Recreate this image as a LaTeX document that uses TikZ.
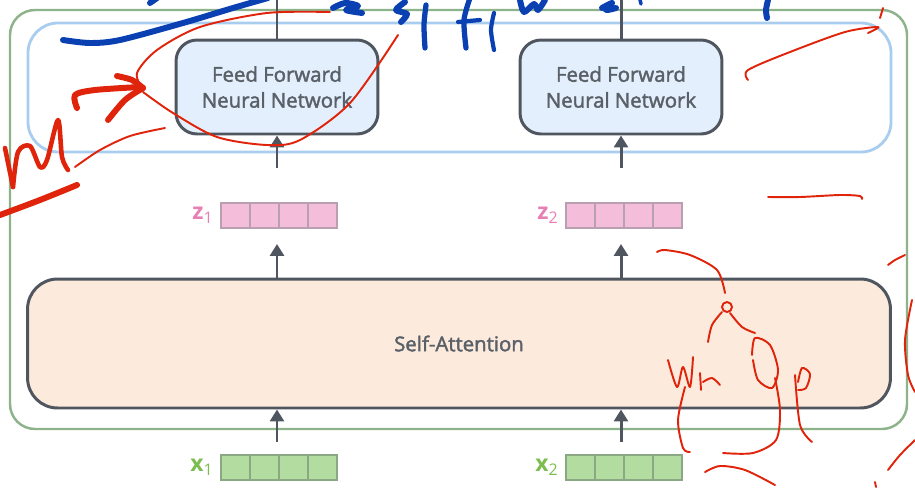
\documentclass[tikz,border=0pt]{standalone}
\usepackage{fontspec}
\setmainfont{Open Sans}
\newfontfamily\semigrasso[FakeBold=2]{Open Sans}
\usepackage{tikz}
\usetikzlibrary{arrows.meta,positioning}

\definecolor{scuro}{HTML}{50565F}
\definecolor{testo}{HTML}{5A6068}
\definecolor{bordoverde}{HTML}{8DB38A}
\definecolor{bordoblu}{HTML}{A9CDEF}
\definecolor{fondoblu}{HTML}{E3EFFC}
\definecolor{fondopesca}{HTML}{FCEBDD}
\definecolor{rosa}{HTML}{F4BDDA}
\definecolor{rosabordo}{HTML}{B8A0B0}
\definecolor{rosatesto}{HTML}{E77FB3}
\definecolor{verdino}{HTML}{B3DCA0}
\definecolor{verdebordo}{HTML}{8CA784}
\definecolor{verdetesto}{HTML}{7BBD4F}
\definecolor{inchiostro}{HTML}{E0230B}
\definecolor{pennablu}{HTML}{0B40B2}

\tikzset{
  blocco/.style = {draw=scuro, line width=1.7pt, rounded corners=0.42cm,
                   text=testo, font=\semigrasso\fontsize{11.6}{14.7}\selectfont, align=center},
  zcell/.style  = {draw=rosabordo, fill=rosa, line width=0.6pt,
                   minimum width=0.58cm, minimum height=0.5cm, inner sep=0pt, outer sep=0pt},
  xcell/.style  = {zcell, draw=verdebordo, fill=verdino},
  etichetta/.style = {inner sep=0pt, font=\bfseries\fontsize{13}{14}\selectfont},
  freccia/.style = {draw=scuro, line width=1.7pt,
                    -{Triangle[length=2.4mm,width=2.8mm]}},
  penna/.style  = {draw=inchiostro, line width=1.1pt, line cap=round, line join=round},
  pennone/.style = {penna, line width=3.4pt},
  biro/.style   = {draw=pennablu, line width=3.4pt, line cap=round, line join=round},
}

\begin{document}
\begin{tikzpicture}[x=0.02cm, y=-0.02cm]
  \useasboundingbox (0,0) rectangle (915,487);

  % cornice dell'encoder e fascia feed forward
  \draw[bordoverde, line width=1.4pt, rounded corners=0.5cm] (10,10) rectangle (907,429);
  \draw[bordoblu, line width=1.6pt, rounded corners=0.6cm] (28,23) rectangle (891,152);

  % blocchi principali
  \node[blocco, fill=fondopesca, minimum width=17.26cm, minimum height=2.58cm,
        rounded corners=0.6cm] (sa) at (459,343.5) {Self-Attention};
  \node[blocco, fill=fondoblu, minimum width=4.04cm, minimum height=1.88cm] (ffn1) at (277,87)
    {Feed Forward\\Neural Network};
  \node[blocco, fill=fondoblu, minimum width=4.04cm, minimum height=1.88cm] (ffn2) at (621,87)
    {Feed Forward\\Neural Network};
  \coordinate (cima) at (459,0); % bordo superiore

  % vettori z (uscita self-attention) e x (ingresso)
  \foreach \v/\cx in {1/221,2/566} {
    \node[zcell] (z\v-1) at (\cx+14.5,215.5) {};
    \foreach \c [count=\p] in {2,3,4}
      \node[zcell, right=0pt of z\v-\p] (z\v-\c) {};
    \node[etichetta, left=4pt of z\v-1, text=rosatesto] (zl\v) {z\textsubscript{\mdseries\v}};
    \node[xcell] (x\v-1) at (\cx+14.5,467.5) {};
    \foreach \c [count=\p] in {2,3,4}
      \node[xcell, right=0pt of x\v-\p] (x\v-\c) {};
    \node[etichetta, left=4pt of x\v-1, text=verdetesto] (xl\v) {x\textsubscript{\mdseries\v}};
  }

  % collegamenti
  \foreach \v in {1,2} {
    \draw[freccia, shorten <=0.26cm] (ffn\v.south |- x\v-2.north) -- (ffn\v.south |- sa.south);
    \draw[freccia, shorten >=0.32cm] (ffn\v.south |- sa.north) -- (ffn\v.south |- z\v-2.south);
    \draw[freccia, shorten <=0.7cm] (ffn\v.south |- z\v-2.north) -- (ffn\v.south);
    \draw[scuro, line width=1.7pt] (ffn\v.north) -- (ffn\v.north |- cima);
  }

  % appunti a mano (blu)
  \draw[biro] plot[smooth] coordinates {(63,40) (90,43) (120,40) (183,23) (233,8) (268,-2)};
  \draw[biro] plot[smooth] coordinates {(150,3) (157,-2)};
  \draw[biro] plot[smooth] coordinates {(333,8) (345,3) (358,6) (346,10) (362,13)};
  \draw[biro] plot[smooth] coordinates {(405,2) (396,10) (407,14) (401,22)};
  \draw[biro, line width=3pt] plot[smooth] coordinates {(426,5) (424,25) (425,48)};
  \draw[biro, line width=3pt] plot[smooth] coordinates {(470,-2) (464,20) (466,48)};
  \draw[biro, line width=2.4pt] plot[smooth] coordinates {(458,22) (480,20)};
  \draw[biro, line width=2.4pt] plot[smooth] coordinates {(494,13) (491,30) (494,50)};
  \draw[biro] plot[smooth] coordinates {(520,0) (524,12) (534,4) (538,10) (545,0)};
  \draw[biro] plot[smooth] coordinates {(602,8) (612,3) (606,10) (616,8)};
  \draw[biro] plot[smooth] coordinates {(768,0) (766,10) (767,18)};
  \draw[biro, line width=2pt] plot[smooth] coordinates {(640,0) (641,4)};

  % appunti a mano (rosso)
  \draw[pennone] plot[smooth] coordinates {(77,108) (75,95) (95,90) (140,87)};
  \draw[pennone] plot[smooth] coordinates {(117,76) (132,80) (143,88)};
  \draw[pennone] plot[smooth] coordinates {(108,120) (125,100) (143,88)};
  \draw[penna] plot[smooth] coordinates {(143,90) (137,73) (157,50) (200,27) (267,13) (330,12)};
  \draw[penna] plot[smooth] coordinates {(143,92) (173,113) (217,137) (267,145) (300,140) (350,103) (398,35)};
  \draw[pennone, line width=2.6pt] plot[smooth] coordinates {(5,148) (13,187)};
  \draw[pennone, line width=2.6pt] plot[smooth] coordinates {(13,187) (18,152) (30,146) (40,167) (47,160) (58,120) (62,157) (68,170)};
  \draw[pennone] plot[smooth] coordinates {(0,215) (40,200) (77,185)};
  \draw[penna] plot[smooth] coordinates {(75,167) (100,150) (130,136) (165,128)};
  \draw[penna] plot[smooth] coordinates {(748,80) (748,70) (790,52) (845,32) (878,27) (868,33)};
  \draw[penna] plot[smooth] coordinates {(880,18) (883,8)};
  \draw[penna] plot[smooth] coordinates {(768,197) (800,197) (840,195) (860,196) (862,199)};
  \draw[penna] plot[smooth] coordinates {(657,252) (665,250) (690,255) (717,270) (725,293)};
  \draw[penna] (727,307) circle[radius=5];
  \draw[penna] plot[smooth] coordinates {(708,342) (712,325) (722,312)};
  \draw[penna] plot[smooth] coordinates {(730,313) (742,327) (755,333)};
  \draw[penna] plot[smooth] coordinates {(668,360) (677,387) (683,367) (690,387) (693,357)};
  \draw[penna] plot[smooth] coordinates {(700,373) (701,390)};
  \draw[penna] plot[smooth] coordinates {(703,382) (712,378) (720,385)};
  \draw[penna] plot[smooth] coordinates {(685,387) (678,420) (683,448) (690,452)};
  \draw[penna] plot[smooth] coordinates {(752,355) (755,338) (770,345) (778,370) (772,388) (758,380) (753,360)};
  \draw[penna] plot[smooth] coordinates {(775,378) (780,410) (776,440) (753,453) (723,453)};
  \draw[penna] plot[smooth] coordinates {(795,375) (800,425) (812,442)};
  \draw[penna] plot[smooth] coordinates {(798,382) (802,368) (810,374) (806,388) (798,390)};
  \draw[penna] plot[smooth] coordinates {(705,472) (720,466) (745,470) (775,485)};
  \draw[penna] plot[smooth] coordinates {(888,265) (895,260) (905,255)};
  \draw[penna] plot[smooth] coordinates {(912,300) (905,340) (908,375) (915,392)};
  \draw[penna] plot[smooth] coordinates {(888,470) (900,455) (915,440)};
  \draw[penna] plot[smooth] coordinates {(875,482) (876,487)};
\end{tikzpicture}
\end{document}
